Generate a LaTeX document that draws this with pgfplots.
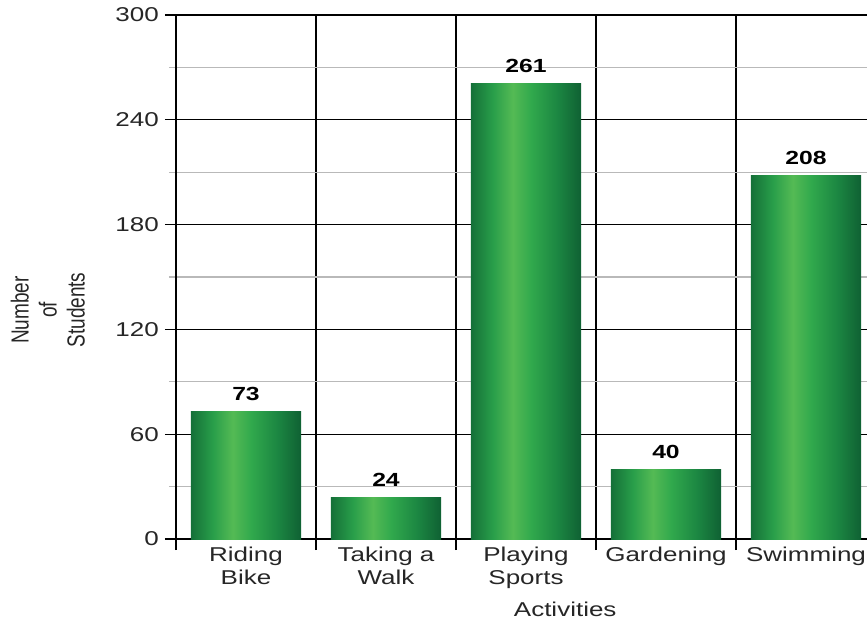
\documentclass[border=0pt]{standalone}
\usepackage{fontspec}
\setmainfont{Liberation Sans}[FakeStretch=1.3]
\newfontfamily\plainfont{Liberation Sans}
\usepackage{pgfplots}
\pgfplotsset{compat=1.18}
\pgfdeclarehorizontalshading{barshade}{100bp}{
 rgb(0bp)=(0.08,0.44,0.22);
 rgb(25bp)=(0.08,0.44,0.22);
 rgb(35bp)=(0.16,0.62,0.29);
 rgb(44bp)=(0.33,0.73,0.33);
 rgb(52.5bp)=(0.19,0.66,0.30);
 rgb(64bp)=(0.11,0.53,0.26);
 rgb(75bp)=(0.06,0.38,0.20);
 rgb(100bp)=(0.06,0.38,0.20)}
\pgfplotsset{mybar/.style={ybar, bar width=0.786, bar shift=0pt, draw=none, shade, shading=barshade}}
\begin{document}
\begin{tikzpicture}[font=\fontsize{20bp}{23bp}\selectfont]
\begin{axis}[
  scale only axis,
  width=700bp, height=524bp,
  xmin=-0.5, xmax=4.5,
  ymin=0, ymax=300,
  axis x line*=bottom, axis y line*=left,
  axis line style={black, line width=1.3bp, -},
  xtick={-0.5,0.5,1.5,2.5,3.5,4.5},
  x tick label as interval,
  xticklabels={{Riding\\Bike},{Taking a\\Walk},{Playing\\Sports},Gardening,Swimming},
  xticklabel style={align=center, inner sep=0pt, text=black!85, yshift=3bp},
  ytick={0,60,...,300},
  minor y tick num=1,
  yticklabel style={inner sep=0pt, text=black!85, xshift=-6bp},
  /pgf/number format/assume math mode=true,
  tick align=outside,
  major tick length=11bp,
  minor tick length=7bp,
  major tick style={black, line width=1.2bp},
  minor tick style={gray!55, line width=1.1bp},
  xmajorgrids, ymajorgrids, yminorgrids,
  major grid style={black, line width=1.2bp},
  minor grid style={gray!55, line width=1.1bp},
  xlabel={Activities},
  xlabel style={at={(axis description cs:0.556,-0.1336)}, anchor=center, text=black!85},
  ylabel={\scalebox{1}[1.3]{\plainfont\fontsize{19bp}{21.5bp}\selectfont\begin{tabular}{@{}c@{}}Number\\of\\Students\end{tabular}}},
  ylabel style={at={(axis description cs:-0.1786,0.437)}, anchor=center, text=black!85},
  nodes near coords,
  every node near coord/.append style={font=\fontsize{19bp}{21bp}\selectfont\bfseries, text=black, yshift=7bp},
]
\addplot[mybar] coordinates {(0,73)};
\addplot[mybar] coordinates {(1,24)};
\addplot[mybar] coordinates {(2,261)};
\addplot[mybar] coordinates {(3,40)};
\addplot[mybar] coordinates {(4,208)};
\end{axis}
\pgfresetboundingbox
\path ([xshift=-176bp,yshift=-83bp]current axis.south west) rectangle ([xshift=-9bp,yshift=15bp]current axis.north east);
\end{tikzpicture}
\end{document}
